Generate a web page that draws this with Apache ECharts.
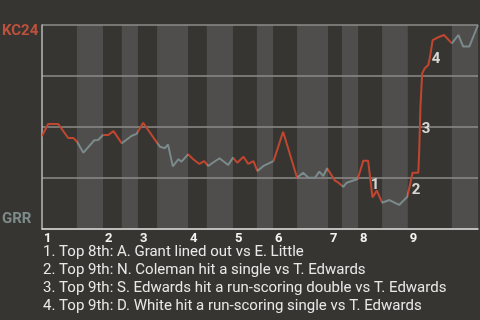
<!DOCTYPE html>
<html><head><meta charset="utf-8">
<script src="https://cdn.jsdelivr.net/npm/echarts@6/dist/echarts.min.js"></script>
<style>html,body{margin:0;padding:0;background:#373531}#c{width:480px;height:320px}</style>
</head><body><div id="c"></div>
<script>
// Game progress (0-100) vs KC24 win probability (%)
const progress = [0,1.4,3.7,6.0,7.2,8.0,9.5,12.0,12.9,14.0,15.2,16.4,18.3,20.6,21.7,22.0,23.2,26.4,27.1,28.2,28.9,30.0,31.3,32.0,33.5,34.7,36.1,37.2,38.1,40.7,42.7,43.8,44.8,46.2,47.3,48.5,49.4,50.8,53.1,55.3,58.5,59.9,61.1,62.6,63.6,64.5,65.4,67.2,68.0,69.1,69.9,72.4,73.7,74.8,75.8,76.8,78.0,79.7,81.9,83.8,85.0,86.3,86.5,86.8,87.2,87.8,88.6,89.0,89.6,90.9,92.2,94.0,95.5,96.6,98.0,100];
const winProb = [45.6,51.5,51.5,44.6,44.6,42.9,37.4,43.5,43.6,46.1,46.1,48.0,42.0,45.7,46.6,47.5,52.1,42.2,40.3,39.6,41.5,30.7,34.2,33.0,36.6,34.2,31.9,33.3,30.9,34.7,31.4,35.0,32.5,35.4,31.9,33.3,28.4,30.9,33.3,47.7,25.1,27.6,25.1,25.1,28.1,26.0,29.8,23.7,22.7,20.7,22.7,24.5,33.5,33.5,15.5,18.8,12.9,14.2,11.8,15.8,27.6,27.6,37.1,60.0,76.3,78.8,80.4,84.5,92.6,94.0,95.1,91.0,95.1,89.4,89.4,100];
// Half-inning boundaries (start of each half), tops are KC24 batting
const halfStarts = [0,8.0,14.0,18.3,22.0,26.4,33.5,37.8,43.8,49.3,53.0,58.5,65.6,68.8,72.5,78.0,83.9,94.0,100];
const innings = ['1','2','3','4','5','6','7','8','9'];
const eventLabels = ['1','2','3','4'];
const eventX = [76.4,85.8,88.1,90.4];
const eventY = [21.6,19.1,49.0,83.3];
const notes = [
  '1. Top 8th: A. Grant lined out vs E. Little',
  '2. Top 9th: N. Coleman hit a single vs T. Edwards',
  '3. Top 9th: S. Edwards hit a run-scoring double vs T. Edwards',
  '4. Top 9th: D. White hit a run-scoring single vs T. Edwards'
];
const teamTop = 'KC24', teamBottom = 'GRR';

const RED = '#c0462f', GRAY = '#7b8a8b';
const lineData = progress.map((x,i)=>[x,winProb[i]]);
const bands = [], pieces = [], inningStarts = [];
for (let i=0;i<halfStarts.length-1;i++){
  const a = halfStarts[i], b = halfStarts[i+1];
  if (i%2===1) bands.push([{xAxis:a},{xAxis:b}]);
  else inningStarts.push(a);
  pieces.push({gte:a, lt:(i===halfStarts.length-2? b+1 : b), color: i%2===0 ? RED : GRAY});
}
const chart = echarts.init(document.getElementById('c'));
chart.setOption({
  backgroundColor:'#373531',
  animation:false,
  grid:{left:42,right:2,top:25,bottom:91},
  xAxis:{type:'value',min:0,max:100,z:2,
    splitLine:{show:false},
    axisLine:{show:true,lineStyle:{color:'#d2d2d2',width:1.5}},
    axisTick:{show:false},
    axisLabel:{show:true,customValues:inningStarts,margin:3,align:'left',padding:[0,0,0,2],
      color:'#f2f2f2',fontFamily:'Roboto',fontWeight:'bold',fontSize:13,
      formatter:(v)=>{const k=inningStarts.findIndex(s=>Math.abs(s-v)<1e-6);return k>=0?innings[k]:'';}}
  },
  yAxis:{type:'value',min:0,max:100,interval:25,z:2,
    axisLine:{show:true,lineStyle:{color:'#b8b8b8',width:1.5}},
    axisTick:{show:false},axisLabel:{show:false},
    splitLine:{show:true,lineStyle:{color:'#8d8c8a',width:1.5}}
  },
  visualMap:{show:false,type:'piecewise',dimension:0,seriesIndex:1,pieces:pieces},
  series:[
    {type:'line',z:1,data:[],silent:true,
      markArea:{silent:true,itemStyle:{color:'#4f4e4c'},data:bands}},
    {type:'line',z:3,data:lineData,symbol:'none',lineStyle:{width:2}},
    {type:'scatter',z:4,symbolSize:1,itemStyle:{color:'rgba(0,0,0,0)'},
      data:eventX.map((x,i)=>({value:[x,eventY[i]],name:eventLabels[i]})),
      label:{show:true,position:'inside',formatter:'{b}',color:'#ffffff',fontFamily:'Roboto',fontWeight:'bold',fontSize:15}}
  ],
  graphic:[
    {type:'text',left:2,top:24,style:{text:teamTop,fill:'#bd513c',font:'bold 15px Roboto'}},
    {type:'text',left:2,top:212,style:{text:teamBottom,fill:'#7d8b8b',font:'bold 15px Roboto'}}
  ].concat(notes.map((t,i)=>({type:'text',left:43,top:245+i*17.8,style:{text:t,fill:'#e8e8e8',font:'15px Roboto'}})))
});
</script></body></html>
